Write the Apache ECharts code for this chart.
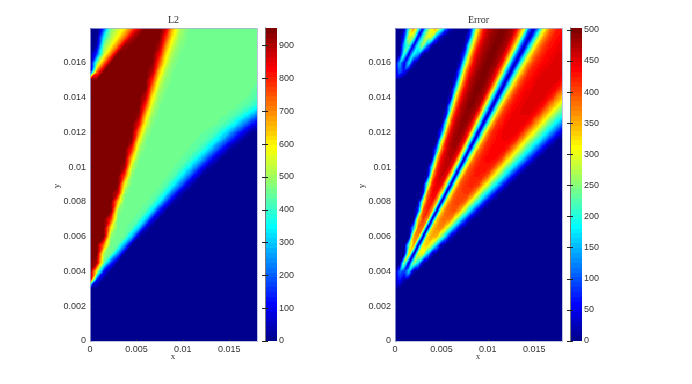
<!DOCTYPE html>
<html><head><meta charset="utf-8">
<style>html,body{margin:0;padding:0;background:#fff}#c{width:692px;height:384px}</style>
<script src="https://cdn.jsdelivr.net/npm/echarts@6/dist/echarts.min.js"></script>
</head><body><div id="c"></div>
<script>
// Axis ticks
const xTicks = [0, 0.005, 0.01, 0.015];
const yTicks = [0, 0.002, 0.004, 0.006, 0.008, 0.01, 0.012, 0.014, 0.016];
const l2BarTicks = [0, 100, 200, 300, 400, 500, 600, 700, 800, 900];
const errBarTicks = [0, 50, 100, 150, 200, 250, 300, 350, 400, 450, 500];
const l2Max = 954;
const errMax = 503;

// Sample positions of the values
const yNodes = [0,0.0005,0.001,0.0015,0.002,0.0025,0.003,0.0035,0.004,0.0045,0.005,0.0055,0.006,0.0065,0.007,0.0075,0.008,0.0085,0.009,0.0095,0.01,0.0105,0.011,0.0115,0.012,0.0125,0.013,0.0135,0.014,0.0145,0.015,0.0155,0.016,0.0165,0.017,0.0175,0.018];
const l2XNodes = [0,0.00075,0.0015,0.00225,0.003,0.00375,0.0045,0.00525,0.006,0.00675,0.0075,0.00825,0.009,0.00975,0.0105,0.01125,0.012,0.01275,0.0135,0.01425,0.015,0.01575,0.0165,0.01725,0.018];
const errXNodes = [0,0.0005,0.001,0.0015,0.002,0.0025,0.003,0.0035,0.004,0.0045,0.005,0.0055,0.006,0.0065,0.007,0.0075,0.008,0.0085,0.009,0.0095,0.01,0.0105,0.011,0.0115,0.012,0.0125,0.013,0.0135,0.014,0.0145,0.015,0.0155,0.016,0.0165,0.017,0.0175,0.018];

// L2 values, one row per yNodes entry (bottom to top); missing trailing cells are 0
const l2Rows = [
[],[],[],[],[],[],[],
[950,110],
[950,560,110],
[950,900,450,160],
[950,950,500,450,230],
[950,950,700,450,445,250,5],
[950,950,950,480,450,445,285,25],
[950,950,950,600,450,450,430,300,60],
[950,950,950,790,455,450,450,430,310,90],
[950,950,950,950,495,450,450,450,430,320,120,10],
[950,950,950,950,640,455,450,450,450,430,340,160,25],
[950,950,950,950,880,480,450,450,450,450,430,345,185,50],
[950,950,950,950,950,570,455,450,450,450,450,428,350,225,80,8],
[950,950,950,950,950,750,470,450,450,450,450,450,428,360,245,110,15],
[950,950,950,950,950,910,530,455,450,450,450,450,448,430,365,265,140,35],
[950,950,950,950,950,950,640,465,450,450,450,450,450,448,432,380,300,175,70,10],
[950,950,950,950,950,950,790,505,455,450,450,450,450,450,448,435,400,325,215,110,25],
[950,950,950,950,950,950,925,580,465,450,450,450,450,450,450,448,440,410,345,255,150,60,10],
[950,950,950,950,950,950,950,710,495,455,450,450,450,450,450,450,448,445,420,370,285,190,100,25,2],
[950,950,950,950,950,950,950,840,560,465,450,450,450,450,450,450,450,450,448,432,400,340,250,155,85],
[950,950,950,950,950,950,950,930,640,490,455,450,450,450,450,450,450,450,450,450,445,420,375,310,225],
[950,950,950,950,950,950,950,950,770,535,462,450,450,450,450,450,450,450,450,450,450,448,438,415,370],
[950,950,950,950,950,950,950,950,880,590,480,455,450,450,450,450,450,450,450,450,450,450,450,445,415],
[950,950,950,950,950,950,950,950,940,690,510,462,450,450,450,450,450,450,450,450,450,450,450,450,438],
[950,950,950,950,950,950,950,950,950,790,560,475,455,450,450,450,450,450,450,450,450,450,450,450,450],
[0,720,950,950,950,950,950,950,950,900,640,500,460,450,450,450,450,450,450,450,450,450,450,450,450],
[0,460,720,950,950,950,950,950,950,940,740,550,470,455,450,450,450,450,450,450,450,450,450,450,450],
[0,170,535,720,950,950,950,950,950,950,830,600,495,460,450,450,450,450,450,450,450,450,450,450,450],
[0,30,460,570,720,920,950,950,950,950,910,680,530,470,455,450,450,450,450,450,450,450,450,450,450],
[0,0,350,510,590,720,890,950,950,950,945,770,580,490,460,450,450,450,450,450,450,450,450,450,450],
[0,0,170,460,535,605,720,860,945,950,950,860,640,515,465,455,450,450,450,450,450,450,450,450,450]
];

// Error values, one row per yNodes entry (bottom to top); missing trailing cells are 0
const errRows = [
[],[],[],[],[],[],[],
[0,70,20],
[0,110,80,170,15],
[0,0,267,30,260,180,20],
[0,0,0,337,15,304,300,160,25],
[0,0,0,234,361,15,318,335,268,150,25],
[0,0,0,0,354,375,15,334,355,344,248,142,28],
[0,0,0,0,156,388,380,16,333,366,370,318,218,126,30],
[0,0,0,0,0,324,411,374,17,331,377,385,373,293,200,115,31],
[0,0,0,0,0,76,391,425,361,17,324,383,395,395,355,276,190,107,32],
[0,0,0,0,0,0,283,418,431,339,17,316,389,405,405,393,324,251,182,101,32],
[0,0,0,0,0,0,36,374,436,436,320,18,303,390,406,410,410,377,307,230,172,94,33],
[0,0,0,0,0,0,0,228,419,450,441,309,18,298,395,412,420,420,407,349,294,218,168,92,34],
[0,0,0,0,0,0,0,23,340,442,465,442,302,19,293,391,412,425,425,421,395,332,272,212,157,85,34],
[0,0,0,0,0,0,0,0,188,404,456,470,447,296,19,280,387,413,426,430,430,417,370,314,249,202,146,86,34],
[0,0,0,0,0,0,0,0,14,320,440,468,473,445,287,19,270,378,413,431,435,435,431,409,348,305,239,196,139,83,35],
[0,0,0,0,0,0,0,0,0,135,377,454,478,478,435,266,19,254,377,412,429,438,438,438,425,385,333,285,228,188,131,79,35],
[0,0,0,0,0,0,0,0,0,10,273,425,473,488,478,429,244,20,242,365,414,427,436,440,440,436,418,365,317,264,220,185,128,75,35],
[0,0,0,0,0,0,0,0,0,0,88,343,451,480,490,475,417,230,20,236,365,418,432,440,445,445,445,432,396,347,311,254,214,174,125,76,36],
[0,0,0,0,0,0,0,0,0,0,10,221,403,467,487,492,472,394,221,20,222,356,414,427,440,445,445,445,442,423,378,338,294,240,205,165,116],
[0,0,0,0,0,0,0,0,0,0,0,50,332,436,475,490,490,470,386,198,20,220,349,408,430,439,448,448,448,448,435,408,358,323,278,233,202],
[0,0,0,0,0,0,0,0,0,0,0,5,199,374,458,483,498,493,473,369,194,20,216,342,405,428,437,446,450,450,450,446,428,387,347,315,261],
[0,0,0,0,0,0,0,0,0,0,0,0,40,299,418,468,488,498,488,468,359,179,20,207,333,396,428,437,446,450,450,450,450,437,414,369,338],
[0,0,0,0,0,0,0,0,0,0,0,0,5,160,350,440,475,495,500,490,460,350,170,20,198,324,392,423,437,441,450,450,450,450,446,428,396],
[0,0,0,0,0,0,0,0,0,0,0,0,0,30,250,390,460,485,495,500,485,450,340,160,20,194,320,387,423,432,441,450,450,450,450,449,437],
[0,110,60,10,0,0,0,0,0,0,0,0,0,5,125,335,425,465,490,500,495,480,440,335,155,20,189,315,378,419,430,440,448,450,450,450,450],
[0,150,50,180,30,0,0,0,0,0,0,0,0,0,25,225,365,445,475,490,500,495,480,435,325,150,20,180,310,374,414,428,437,441,450,450,450],
[0,15,222,40,190,145,10,0,0,0,0,0,0,0,5,90,300,410,460,480,495,500,490,475,425,320,140,20,171,300,369,405,423,437,441,449,450],
[0,0,160,232,50,195,270,130,20,0,0,0,0,0,0,15,195,340,430,470,485,495,500,490,475,415,315,135,20,162,292,365,405,423,432,441,446],
[0,0,75,290,260,45,210,300,280,115,25,0,0,0,0,5,60,270,380,445,475,490,498,500,488,470,400,305,125,20,148,283,355,396,423,432,439],
[0,0,20,215,370,260,40,215,315,360,250,120,30,0,0,0,10,170,325,415,460,480,492,500,495,485,465,390,300,120,20,135,279,351,396,423,428]
];

// MATLAB-style 64-step jet colour lookup
function clamp01(v){return Math.max(0,Math.min(1,v));}
function jet(v,max){
  const k=Math.max(0,Math.min(63,Math.floor(v/max*64)));
  const t=(k+1)/64;
  const f=c=>Math.round(255*clamp01(1.5-Math.abs(4*t-c)));
  return 'rgb('+f(3)+','+f(2)+','+f(1)+')';
}

// Each datum is one cell [x0,y0,x1,y1,v00,v10,v01,v11] between four read values.
// The cell is shaded between its corners over two triangles, like MATLAB's "shading interp".
function cellRenderer(max,subX,subY){
  return function(params,api){
    const x0=api.value(0),y0=api.value(1),x1=api.value(2),y1=api.value(3);
    const a=api.value(4),b=api.value(5),c=api.value(6),d=api.value(7);
    const p0=api.coord([x0,y0]),p1=api.coord([x1,y1]);
    const children=[];
    const flat=(a===b&&b===c&&c===d);
    const nx=flat?1:subX, ny=flat?1:subY;
    for(let j=0;j<ny;j++){
      const ya=Math.round(p0[1]+(p1[1]-p0[1])*j/ny), yb=Math.round(p0[1]+(p1[1]-p0[1])*(j+1)/ny);
      if(ya===yb)continue;
      for(let i=0;i<nx;i++){
        const xa=Math.round(p0[0]+(p1[0]-p0[0])*i/nx), xb=Math.round(p0[0]+(p1[0]-p0[0])*(i+1)/nx);
        if(xa===xb)continue;
        const u=(i+.5)/nx, w=(j+.5)/ny;
        const v=u>w ? a+(b-a)*u+(d-b)*w : a+(d-c)*u+(c-a)*w;
        children.push({type:'rect',shape:{x:xa,y:Math.min(ya,yb),width:xb-xa,height:Math.abs(yb-ya)},style:{fill:jet(v,max)}});
      }
    }
    return {type:'group',children:children};
  };
}
function cells(xs,ys,rows){
  const out=[];
  for(let j=0;j<ys.length-1;j++)for(let i=0;i<xs.length-1;i++){
    out.push([xs[i],ys[j],xs[i+1],ys[j+1],rows[j][i]||0,rows[j][i+1]||0,rows[j+1][i]||0,rows[j+1][i+1]||0]);
  }
  return out;
}
function bar(max){
  const out=[];
  for(let k=0;k<64;k++){const m=(k+.5)/64*max;out.push([0,k/64*max,1,(k+1)/64*max,m,m,m,m]);}
  return out;
}

const sans='"Liberation Sans"', serif='"Liberation Serif"';
const txt='#333', tickCol='#333';
const fmt=v=>String(+(+v).toFixed(4));

function plotX(g){return {gridIndex:g,type:'value',min:0,max:0.018,splitLine:{show:false},axisLine:{show:false},
  axisTick:{show:true,inside:true,length:2,customValues:xTicks,lineStyle:{color:tickCol,opacity:.5}},
  axisLabel:{customValues:xTicks,formatter:fmt,fontFamily:sans,fontSize:9,color:txt,margin:4},z:5};}
function plotY(g){return {gridIndex:g,type:'value',min:0,max:0.018,splitLine:{show:false},axisLine:{show:false},
  axisTick:{show:true,inside:true,length:2,customValues:yTicks,lineStyle:{color:tickCol,opacity:.5}},
  axisLabel:{customValues:yTicks,formatter:fmt,fontFamily:sans,fontSize:9,color:txt,margin:4},z:5};}
function barX(g){return {gridIndex:g,type:'value',min:0,max:1,show:false};}
function barY(g,max,ticks,pos,labels){return {gridIndex:g,type:'value',min:0,max:max,position:pos,splitLine:{show:false},
  axisLine:{show:true,lineStyle:{color:'#777',width:1}},
  axisTick:{show:true,inside:true,length:3,customValues:ticks,lineStyle:{color:'#222'}},
  axisLabel:{show:labels,customValues:ticks,formatter:fmt,fontFamily:sans,fontSize:9,color:txt,margin:2},z:5};}
function cellSeries(xi,yi,data,max,sx,sy){return {type:'custom',xAxisIndex:xi,yAxisIndex:yi,data:data,silent:true,animation:false,progressive:0,
  clip:true,encode:{x:[0,2],y:[1,3]},renderItem:cellRenderer(max,sx,sy)};}
function axisName(text,x,y,rot){return {type:'text',x:x,y:y,rotation:rot,z:100,silent:true,
  style:{text:text,font:'9px '+serif,fill:txt,align:'center',verticalAlign:'middle'}};}

const plotTop=28,plotH=313;
const chart=echarts.init(document.getElementById('c'),null,{renderer:'canvas'});
chart.setOption({
  animation:false,backgroundColor:'#fff',
  title:[
    {text:'L2',left:168,top:15,padding:0,textStyle:{fontFamily:serif,fontSize:10,fontWeight:'normal',color:txt}},
    {text:'Error',left:468,top:15,padding:0,textStyle:{fontFamily:serif,fontSize:10,fontWeight:'normal',color:txt}}
  ],
  grid:[
    {left:90,top:plotTop,width:167,height:plotH},
    {left:265,top:plotTop,width:12,height:plotH},
    {left:395,top:plotTop,width:167,height:plotH},
    {left:570,top:plotTop,width:12,height:plotH}
  ],
  xAxis:[plotX(0),barX(1),plotX(2),barX(3)],
  yAxis:[plotY(0),barY(1,l2Max,l2BarTicks,'right',true),plotY(2),barY(3,errMax,errBarTicks,'right',true),
         barY(1,l2Max,l2BarTicks,'left',false),barY(3,errMax,errBarTicks,'left',false)],
  series:[
    cellSeries(0,0,cells(l2XNodes,yNodes,l2Rows),l2Max,6,8),
    cellSeries(1,1,bar(l2Max),l2Max,1,1),
    cellSeries(2,2,cells(errXNodes,yNodes,errRows),errMax,4,8),
    cellSeries(3,3,bar(errMax),errMax,1,1)
  ],
  graphic:[
    {type:'rect',z:100,silent:true,shape:{x:90.5,y:plotTop+.5,width:167,height:plotH},style:{fill:'none',stroke:'rgba(170,175,215,.75)',lineWidth:1}},
    {type:'rect',z:100,silent:true,shape:{x:395.5,y:plotTop+.5,width:167,height:plotH},style:{fill:'none',stroke:'rgba(170,175,215,.75)',lineWidth:1}},
    axisName('x',173,357,0),
    axisName('x',478,357,0),
    axisName('y',57,186,Math.PI/2),
    axisName('y',362,186,Math.PI/2)
  ]
});
</script></body></html>
